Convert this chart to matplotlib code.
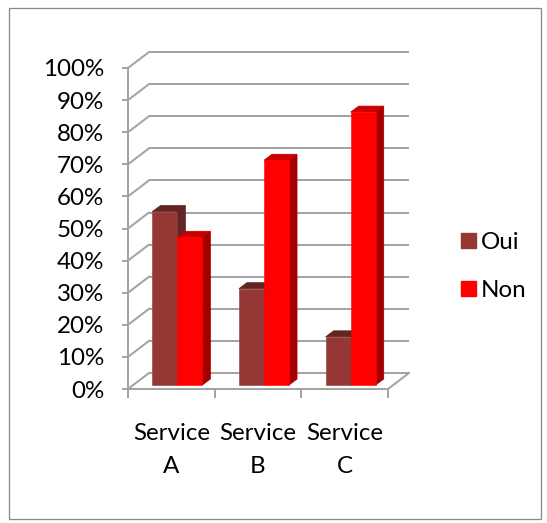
import matplotlib
matplotlib.use("Agg")
import matplotlib.pyplot as plt
from matplotlib.patches import Patch, Rectangle
from matplotlib.transforms import offset_copy

plt.rcParams['font.family'] = ['Lato', 'DejaVu Sans']

categories = ['Service\nA', 'Service\nB', 'Service\nC']
oui = [54, 30, 15]
non = [46, 70, 85]
y_ticks = [0, 10, 20, 30, 40, 50, 60, 70, 80, 90, 100]

W, H = 547, 523
DPI = 100
fig = plt.figure(figsize=(W / DPI, H / DPI), dpi=DPI, facecolor='white')
L, R, T, B = 128, 388, 68, 389
ax = fig.add_axes([L / W, 1 - B / H, (R - L) / W, (B - T) / H])
ax.set_xlim(0, 3)
ax.set_ylim(0, 100)
ax.patch.set_alpha(0)

PX = 72 / DPI  # points per pixel
GRID = '#A3A3A3'
FS = 17.4


def shifted(dx, dy):
    return offset_copy(ax.transData, fig=fig, x=dx, y=dy, units='dots')


# frame
fig.add_artist(Rectangle((8.5 / W, 1 - 518.5 / H), 532 / W, 510.5 / H,
                         transform=fig.transFigure, fill=False,
                         ec='#8C8C8C', lw=1.3 * PX))

# 3D wall
WX, WY = 21, 16
wall = shifted(WX, WY)
for v in y_ticks:
    ax.plot([0, 3], [v, v], color=GRID, lw=2 * PX, transform=wall,
            clip_on=False, zorder=1, solid_capstyle='butt')
    ax.plot([0, WX / (R - L) * 3], [v, v + WY / (B - T) * 100], color=GRID,
            lw=2 * PX, clip_on=False, zorder=1)
ax.plot([3, 3 + WX / (R - L) * 3], [0, WY / (B - T) * 100], color=GRID,
        lw=2 * PX, clip_on=False, zorder=1)

# bars
BW = 25 / ((R - L) / 3)
OX, OY = 6, 4
DX, DY = 8, 6
ddx = DX / ((R - L) / 3)
ddy = DY / ((B - T) / 100)


def bar3d(x0, v, front, side, top):
    tr = shifted(OX, OY)
    ax.fill([x0 + BW, x0 + BW + ddx, x0 + BW + ddx, x0 + BW],
            [0, ddy, v + ddy, v], color=side, lw=0.6, transform=tr,
            clip_on=False, zorder=3)
    ax.fill([x0, x0 + ddx, x0 + BW + ddx, x0 + BW],
            [v, v + ddy, v + ddy, v], color=top, lw=0.6, transform=tr,
            clip_on=False, zorder=3)
    ax.bar([x0], [v], width=BW, align='edge', color=front, transform=tr,
           clip_on=False, zorder=3, edgecolor=front, linewidth=0.4)


for i, (a, b) in enumerate(zip(oui, non)):
    c = i + 0.5
    bar3d(c - BW, a, '#953735', '#632523', '#632523')
    bar3d(c, b, '#FF0000', '#A50000', '#C80000')

# axes
for s in ('top', 'right'):
    ax.spines[s].set_visible(False)
for s in ('left', 'bottom'):
    ax.spines[s].set_color(GRID)
    ax.spines[s].set_linewidth(2 * PX)
    ax.spines[s].set_zorder(2)

ax.set_yticks(y_ticks)
ax.set_yticklabels([f'{v}%' for v in y_ticks], fontsize=FS, color='black')
ax.tick_params(axis='y', length=6 * PX, width=2 * PX, color=GRID, pad=18 * PX)

ax.set_xticks(range(4))
ax.set_xticklabels([])
ax.set_xticks([0.5, 1.5, 2.5], minor=True)
ax.set_xticklabels(categories, minor=True, fontsize=FS, color='black',
                   linespacing=1.7)
ax.tick_params(axis='x', which='major', length=9 * PX, width=2 * PX, color=GRID)
ax.tick_params(axis='x', which='minor', length=0, pad=34 * PX)

# legend
handles = [Patch(color='#953735', label='Oui'), Patch(color='#FF0000', label='Non')]
fig.legend(handles=handles, loc='center left', frameon=False, fontsize=FS,
           bbox_to_anchor=(444 / W, 1 - 266.5 / H), handlelength=0.62,
           handleheight=0.62, handletextpad=0.2, labelspacing=1.12,
           borderpad=0.2)

fig.savefig('out.png', dpi=DPI)
